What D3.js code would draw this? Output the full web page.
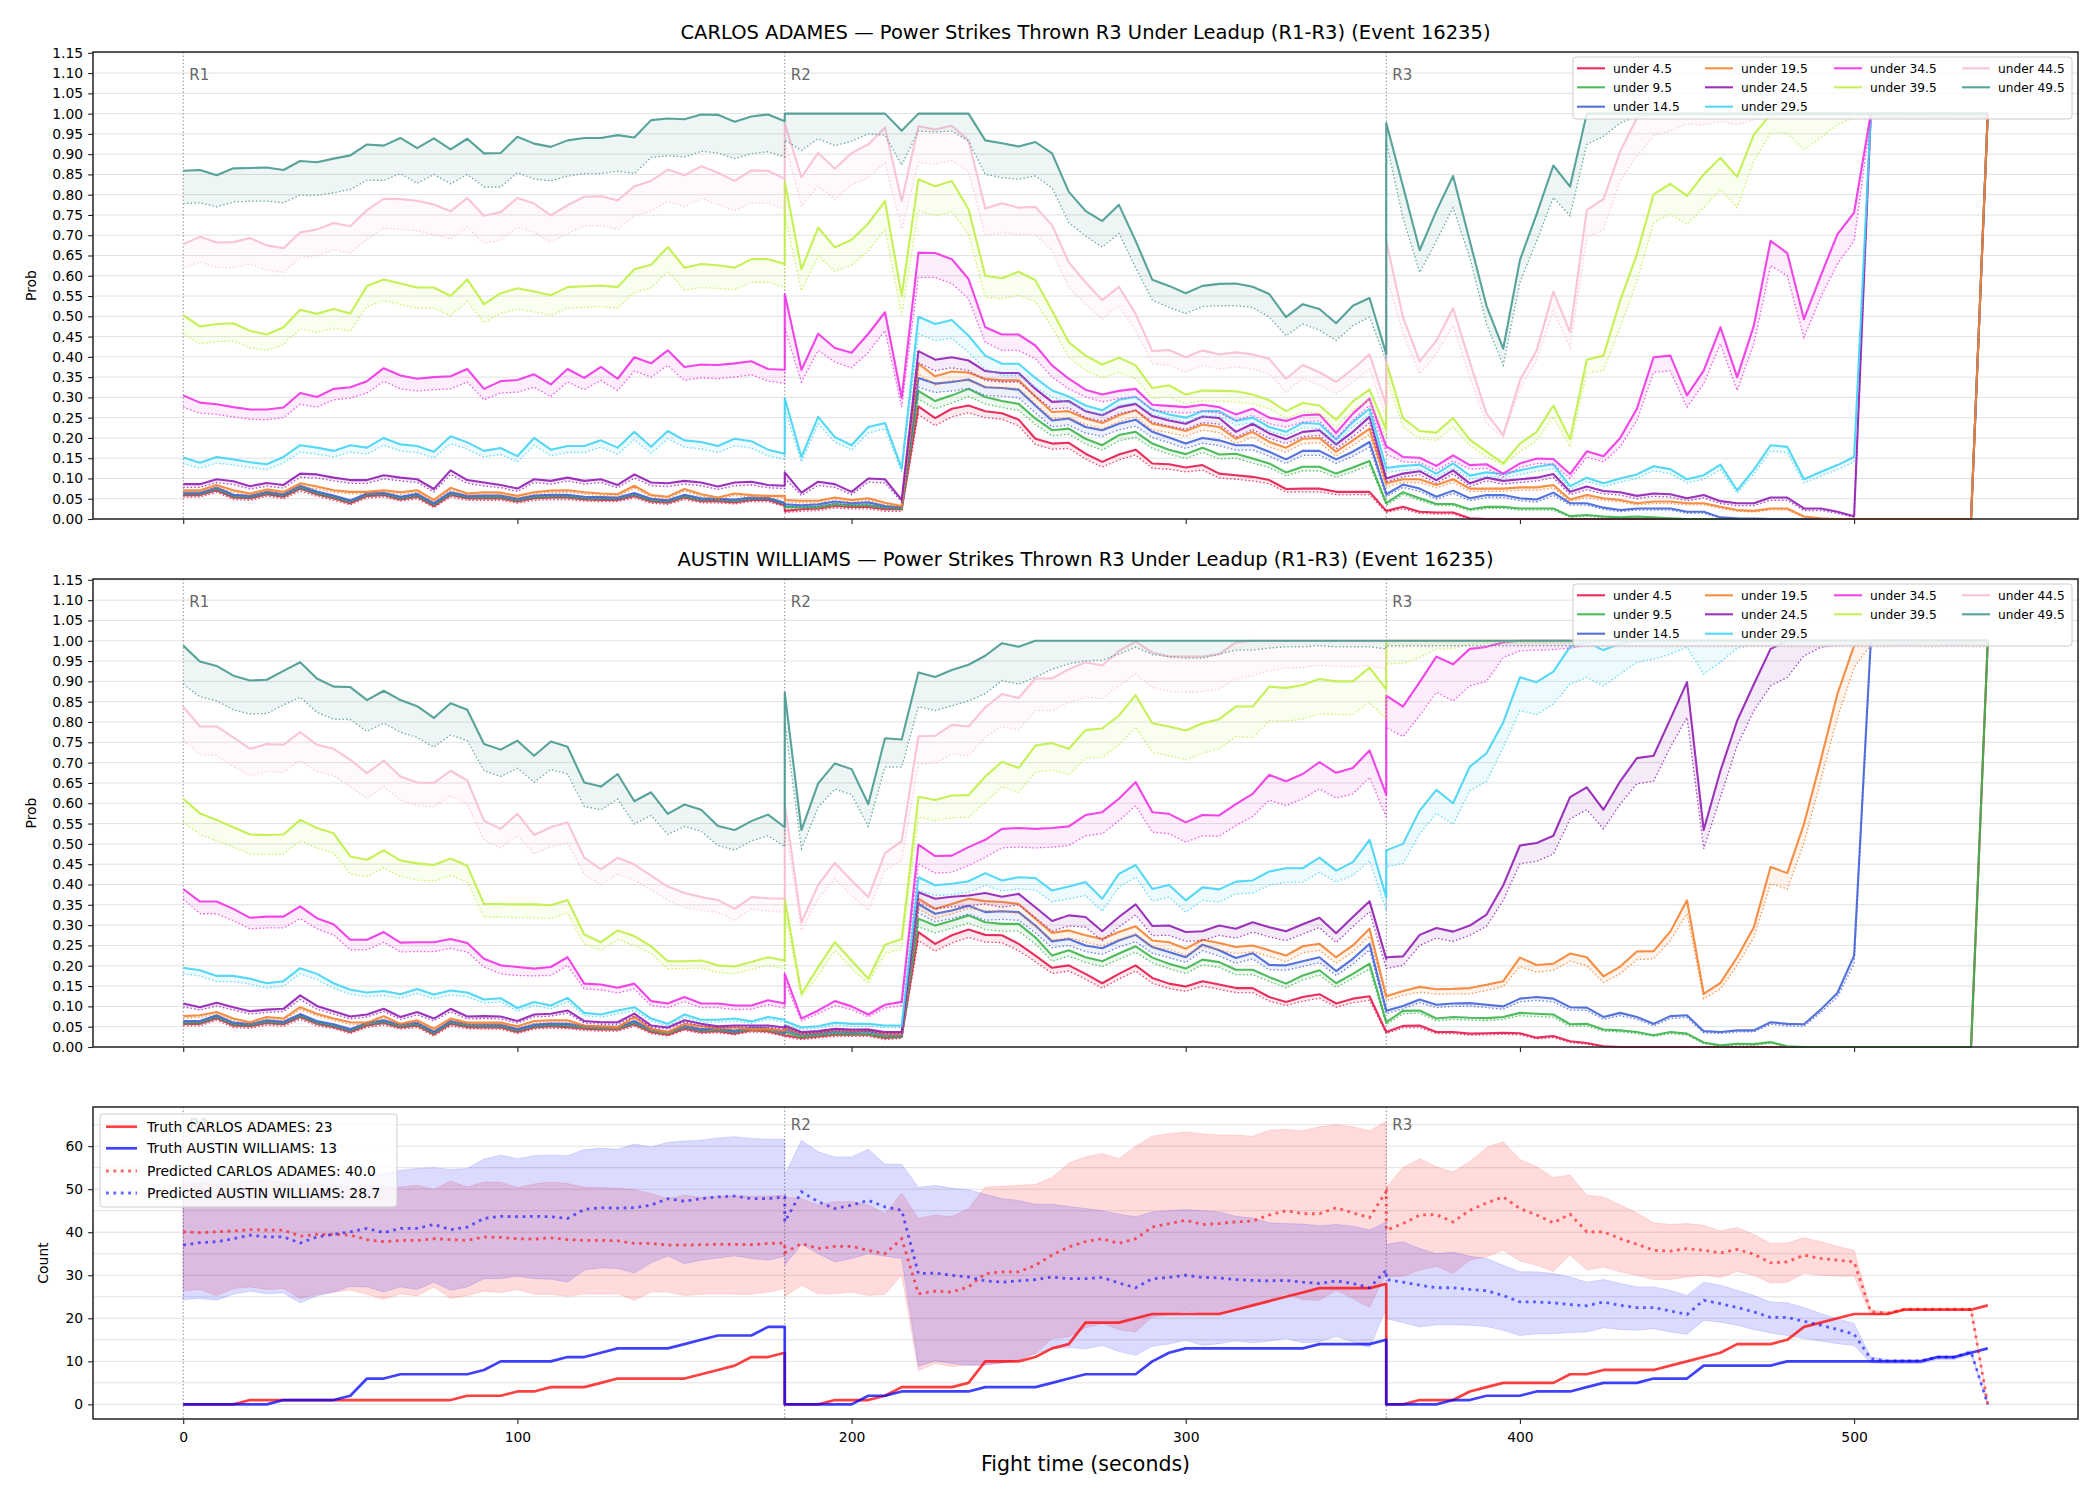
<!DOCTYPE html>
<html><head><meta charset="utf-8">
<script src="https://cdn.jsdelivr.net/npm/d3@7"></script>
<style>body{margin:0;background:#fff}svg{display:block}</style>
</head><body>
<svg width="2100" height="1500"></svg>
<script>
// ---------- categories / labels ----------
const seriesLabels = ["under 4.5","under 9.5","under 14.5","under 19.5","under 24.5","under 29.5","under 34.5","under 39.5","under 44.5","under 49.5"];
const colors = ["#e6194b","#3cb44b","#4363d8","#f58231","#911eb4","#42d4f4","#f032e6","#bfef45","#fabed4","#469990"];
const roundStarts = [0,180,360];
const roundLabels = ["R1","R2","R3"];
const xTicks = [0,100,200,300,400,500];
const titleA = "CARLOS ADAMES \u2014 Power Strikes Thrown R3 Under Leadup (R1-R3) (Event 16235)";
const titleB = "AUSTIN WILLIAMS \u2014 Power Strikes Thrown R3 Under Leadup (R1-R3) (Event 16235)";
const countLegend = ["Truth CARLOS ADAMES: 23","Truth AUSTIN WILLIAMS: 13","Predicted CARLOS ADAMES: 40.0","Predicted AUSTIN WILLIAMS: 28.7"];

// ---------- CARLOS ADAMES panel (solid = line, lo = dotted) ----------
const ca_u4 = [
.059,.059,.071,.053,.051,.061,.055,.075,.061,.051,.039,.057,.059,.048,.055,.032,.059,.051,.051,.051,.043,.051,.053,.053,.048,.047,.047,.057,.043,.040,.053,.044,.044,.041,.047,.047,.034,
.020,.024,.026,.032,.030,.030,.024,.024,.278,.249,.272,.280,.266,.261,.245,.198,.186,.188,.161,.141,.159,.171,.137,.135,.127,.133,.112,.108,.104,.096,.074,.075,.075,.067,.067,.067,.020,
.020,.030,.018,.016,.016,.002,0,0,0,0,0,0,0,0,0,0,0,0,0,0,0,0,0,0,0,0,0,0,0,0,0,0,0,0,0,0,1];
const ca_u4_lo = [
.054,.054,.066,.048,.046,.056,.050,.069,.056,.046,.035,.052,.054,.044,.050,.028,.054,.046,.046,.046,.039,.046,.048,.048,.044,.043,.043,.052,.039,.036,.048,.040,.040,.037,.043,.043,.030,
.016,.019,.021,.027,.025,.025,.019,.019,.258,.230,.252,.262,.250,.246,.230,.184,.172,.174,.148,.128,.146,.158,.125,.123,.116,.121,.101,.098,.094,.087,.066,.067,.067,.060,.060,.060,.016,
.016,.025,.014,.012,.012,0,0,0,0,0,0,0,0,0,0,0,0,0,0,0,0,0,0,0,0,0,0,0,0,0,0,0,0,0,0,0,.99];
const ca_u9 = [
.063,.063,.075,.057,.055,.065,.059,.079,.065,.055,.043,.061,.063,.052,.059,.036,.063,.055,.055,.055,.047,.055,.057,.057,.052,.051,.051,.061,.047,.044,.057,.048,.048,.045,.051,.051,.038,
.030,.029,.030,.037,.034,.034,.029,.026,.316,.291,.305,.321,.301,.291,.284,.248,.219,.223,.198,.182,.207,.215,.186,.171,.160,.176,.159,.161,.149,.137,.115,.129,.129,.112,.127,.143,.039,
.039,.066,.051,.037,.037,.024,.030,.030,.026,.026,.026,.007,.010,.006,.004,.006,.004,.002,0,0,0,0,0,0,0,0,0,0,0,0,0,0,0,0,0,0,1];
const ca_u9_lo = [
.058,.058,.070,.052,.050,.060,.054,.073,.060,.050,.039,.056,.058,.048,.054,.032,.058,.050,.050,.050,.043,.050,.052,.052,.048,.047,.047,.056,.043,.040,.052,.044,.044,.041,.047,.047,.034,
.026,.025,.026,.032,.030,.030,.025,.022,.296,.272,.286,.302,.284,.275,.268,.233,.205,.209,.185,.170,.193,.201,.174,.160,.149,.164,.148,.150,.138,.127,.106,.119,.119,.103,.117,.132,.034,
.034,.060,.046,.033,.033,.020,.026,.026,.022,.022,.022,.004,.007,.003,.002,.003,.002,0,0,0,0,0,0,0,0,0,0,0,0,0,0,0,0,0,0,0,.99];
const ca_u14 = [
.065,.065,.078,.060,.057,.067,.061,.082,.068,.058,.046,.063,.065,.055,.062,.039,.066,.057,.058,.058,.050,.058,.060,.060,.055,.054,.053,.064,.050,.046,.060,.051,.050,.048,.053,.052,.040,
.036,.034,.036,.043,.039,.041,.032,.029,.348,.334,.338,.344,.325,.323,.319,.280,.243,.248,.227,.219,.235,.245,.215,.201,.186,.200,.194,.182,.182,.166,.147,.168,.168,.147,.166,.190,.063,
.061,.085,.075,.055,.070,.051,.059,.059,.051,.048,.065,.039,.039,.028,.022,.026,.026,.026,.018,.018,.004,.002,.001,0,0,0,0,0,0,0,0,0,0,0,0,0,1];
const ca_u14_lo = [
.060,.060,.072,.055,.052,.062,.056,.076,.063,.053,.042,.058,.060,.050,.057,.035,.061,.052,.053,.053,.045,.053,.055,.055,.050,.049,.048,.059,.046,.042,.055,.047,.046,.044,.048,.047,.036,
.031,.029,.031,.038,.034,.036,.027,.025,.325,.312,.316,.322,.305,.303,.299,.262,.227,.232,.212,.204,.220,.229,.201,.188,.174,.187,.181,.170,.170,.155,.137,.157,.157,.137,.155,.177,.056,
.055,.078,.068,.049,.063,.045,.053,.053,.045,.042,.058,.034,.034,.024,.018,.022,.022,.022,.014,.014,.002,0,0,0,0,0,0,0,0,0,0,0,0,0,0,0,.99];
const ca_u19 = [
.071,.071,.084,.071,.063,.073,.067,.088,.080,.071,.067,.067,.071,.066,.071,.047,.077,.063,.066,.065,.057,.066,.070,.071,.066,.063,.061,.082,.059,.055,.074,.061,.053,.063,.059,.057,.057,
.047,.045,.045,.053,.047,.051,.040,.032,.383,.352,.364,.361,.346,.342,.342,.302,.264,.266,.248,.237,.256,.268,.235,.227,.217,.233,.227,.198,.215,.190,.176,.198,.200,.166,.194,.223,.088,
.088,.098,.098,.084,.098,.075,.075,.075,.078,.078,.084,.048,.059,.051,.047,.039,.043,.043,.039,.039,.030,.022,.020,.026,.026,.006,.002,0,0,0,0,0,0,0,0,0,1];
const ca_u19_lo = [
.066,.066,.078,.066,.058,.068,.062,.082,.074,.066,.062,.062,.066,.061,.066,.043,.071,.058,.061,.060,.052,.061,.065,.066,.061,.058,.056,.076,.054,.050,.069,.056,.049,.058,.054,.052,.052,
.042,.040,.040,.048,.042,.046,.035,.028,.358,.330,.342,.340,.326,.322,.322,.284,.248,.250,.233,.222,.240,.252,.220,.213,.204,.219,.213,.186,.202,.178,.165,.186,.188,.155,.182,.208,.080,
.080,.090,.090,.077,.090,.068,.068,.068,.071,.071,.077,.043,.053,.046,.042,.035,.038,.038,.035,.035,.026,.019,.017,.022,.022,.004,0,0,0,0,0,0,0,0,0,0,.99];
const ca_u24 = [
.086,.086,.098,.093,.081,.089,.084,.112,.110,.102,.096,.096,.108,.102,.098,.074,.120,.096,.090,.084,.075,.098,.094,.102,.094,.098,.084,.110,.090,.088,.094,.090,.080,.090,.092,.084,.082,
.115,.065,.092,.086,.067,.100,.098,.047,.414,.393,.399,.391,.365,.360,.360,.321,.289,.291,.266,.256,.276,.284,.254,.243,.235,.253,.249,.215,.235,.211,.197,.215,.219,.184,.215,.252,.100,
.100,.112,.118,.096,.120,.088,.102,.094,.098,.102,.111,.067,.080,.069,.066,.057,.063,.061,.051,.059,.044,.039,.039,.053,.053,.026,.026,.018,.007,1,1,1,1,1,1,1,1];
const ca_u24_lo = [
.078,.078,.090,.085,.074,.081,.076,.103,.101,.094,.088,.088,.099,.094,.090,.067,.110,.088,.082,.077,.068,.090,.086,.094,.086,.090,.077,.101,.082,.080,.086,.082,.073,.082,.084,.077,.075,
.100,.058,.083,.078,.060,.091,.089,.042,.385,.366,.373,.366,.342,.338,.338,.302,.272,.274,.250,.241,.260,.268,.239,.229,.221,.238,.234,.202,.221,.199,.186,.203,.206,.173,.203,.237,.092,
.092,.104,.109,.088,.111,.080,.094,.086,.090,.094,.102,.060,.072,.062,.059,.050,.056,.054,.045,.052,.038,.033,.033,.046,.046,.021,.021,.014,.004,.99,.99,.99,.99,.99,.99,.99,.99];
const ca_u29 = [
.152,.139,.153,.147,.140,.135,.153,.182,.176,.168,.182,.176,.200,.184,.180,.166,.204,.189,.168,.175,.155,.200,.171,.180,.180,.194,.176,.215,.178,.217,.194,.190,.180,.198,.192,.171,.161,
.298,.153,.252,.202,.182,.227,.237,.125,.499,.481,.491,.452,.403,.383,.383,.348,.317,.302,.280,.268,.294,.301,.270,.258,.250,.266,.266,.242,.250,.227,.215,.237,.235,.196,.239,.272,.126,
.126,.131,.134,.112,.137,.107,.115,.111,.120,.129,.135,.081,.102,.088,.100,.110,.130,.123,.098,.108,.134,.071,.122,.182,.178,.098,.116,.133,.153,1,1,1,1,1,1,1,1];
const ca_u29_lo = [
.136,.126,.138,.133,.127,.122,.138,.165,.160,.153,.165,.160,.182,.168,.164,.151,.186,.172,.153,.159,.141,.182,.156,.164,.164,.177,.160,.196,.162,.198,.177,.173,.164,.180,.175,.156,.147,
.270,.141,.235,.190,.170,.212,.223,.116,.457,.440,.446,.411,.370,.354,.354,.325,.301,.286,.268,.256,.280,.286,.258,.248,.239,.253,.254,.231,.238,.217,.205,.225,.223,.186,.227,.258,.115,
.115,.120,.123,.103,.126,.098,.106,.102,.110,.118,.124,.073,.093,.080,.091,.100,.119,.112,.089,.098,.122,.064,.111,.168,.164,.089,.106,.122,.141,.99,.99,.99,.99,.99,.99,.99,.99];
const ca_u34 = [
.305,.287,.283,.276,.270,.270,.275,.311,.301,.321,.325,.340,.372,.354,.346,.350,.352,.370,.321,.340,.343,.357,.332,.370,.348,.375,.346,.399,.384,.416,.375,.381,.380,.384,.389,.370,.368,
.555,.368,.457,.422,.410,.457,.510,.299,.657,.656,.641,.592,.473,.455,.455,.428,.379,.346,.319,.307,.316,.321,.282,.279,.276,.282,.276,.258,.272,.250,.242,.256,.258,.212,.260,.297,.178,
.180,.153,.151,.131,.157,.133,.135,.112,.137,.149,.148,.111,.167,.155,.200,.272,.399,.403,.305,.366,.473,.350,.477,.686,.656,.493,.600,.702,.756,1,1,1,1,1,1,1,1];
const ca_u34_lo = [
.276,.261,.258,.252,.246,.245,.250,.283,.276,.294,.298,.311,.340,.321,.316,.319,.321,.338,.294,.311,.313,.325,.302,.338,.319,.342,.317,.365,.350,.379,.342,.348,.346,.350,.356,.340,.335,
.470,.338,.416,.387,.373,.411,.465,.276,.596,.596,.581,.543,.436,.416,.416,.395,.350,.321,.301,.289,.297,.302,.268,.264,.261,.266,.261,.243,.256,.235,.227,.239,.242,.198,.243,.280,.160,
.160,.141,.139,.120,.143,.123,.125,.104,.127,.137,.135,.100,.153,.141,.178,.243,.362,.365,.276,.334,.432,.317,.432,.625,.600,.448,.547,.629,.686,.99,.99,.99,.99,.99,.99,.99,.99];
const ca_u39 = [
.503,.475,.481,.483,.464,.455,.473,.516,.506,.518,.507,.575,.591,.581,.571,.571,.550,.591,.530,.557,.569,.561,.552,.572,.574,.576,.572,.616,.627,.671,.620,.629,.626,.620,.641,.641,.629,
.834,.616,.719,.670,.689,.729,.784,.551,.838,.821,.834,.764,.600,.594,.610,.589,.514,.436,.403,.381,.398,.379,.323,.330,.307,.317,.316,.315,.307,.293,.266,.286,.280,.245,.290,.320,.220,
.387,.249,.217,.213,.249,.196,.166,.137,.186,.215,.280,.197,.393,.403,.539,.653,.801,.827,.797,.850,.891,.844,.948,.998,1,1,1,1,1,1,1,1,1,1,1,1,1];
const ca_u39_lo = [
.457,.432,.438,.439,.422,.416,.430,.469,.460,.471,.463,.524,.539,.529,.520,.520,.501,.537,.484,.507,.518,.511,.502,.520,.522,.524,.520,.559,.570,.611,.565,.571,.569,.565,.584,.584,.571,
.750,.563,.649,.611,.626,.661,.715,.502,.761,.748,.758,.702,.547,.543,.552,.536,.473,.399,.366,.348,.362,.346,.297,.301,.284,.291,.291,.289,.284,.272,.248,.264,.260,.227,.268,.293,.200,
.350,.227,.198,.194,.227,.182,.153,.133,.166,.194,.252,.178,.360,.366,.473,.586,.731,.752,.727,.768,.813,.768,.883,.952,.952,.911,.940,.973,.989,.99,.99,.99,.99,.99,.99,.99,.99];
const ca_u44 = [
.678,.696,.682,.683,.693,.675,.668,.707,.714,.730,.722,.762,.790,.789,.785,.776,.759,.792,.748,.757,.792,.778,.749,.774,.795,.796,.786,.821,.834,.862,.848,.870,.854,.834,.860,.859,.839,
.977,.843,.903,.864,.903,.924,.966,.784,.969,.961,.970,.934,.766,.779,.768,.770,.725,.633,.584,.540,.573,.506,.414,.417,.399,.416,.406,.411,.406,.395,.346,.380,.362,.338,.370,.406,.280,
.686,.498,.389,.440,.520,.387,.260,.207,.342,.416,.561,.461,.762,.789,.907,.989,1,1,1,1,1,1,1,1,1,1,1,1,1,1,1,1,1,1,1,1,1];
const ca_u44_lo = [
.619,.634,.620,.620,.629,.614,.608,.645,.649,.664,.656,.690,.717,.715,.711,.702,.690,.719,.680,.688,.719,.707,.682,.704,.723,.723,.715,.748,.760,.783,.771,.791,.776,.760,.780,.779,.764,
.930,.772,.821,.789,.825,.842,.879,.715,.879,.875,.884,.858,.698,.707,.702,.702,.661,.571,.530,.493,.526,.465,.383,.379,.362,.379,.370,.375,.370,.358,.313,.346,.330,.309,.338,.370,.250,
.600,.457,.358,.407,.477,.350,.235,.202,.321,.391,.514,.424,.694,.715,.834,.895,.946,.957,.975,.971,.981,.973,.985,.989,.991,.99,.99,.99,.99,.99,.99,.99,.99,.99,.99,.99,.99];
const ca_u49 = [
.859,.861,.848,.865,.866,.867,.861,.883,.880,.889,.897,.924,.921,.940,.915,.939,.912,.938,.902,.903,.943,.926,.918,.934,.940,.940,.947,.941,.984,.988,.986,.998,.997,.980,.993,.998,.981,
1,1,1,1,1,1,1,.958,1,1,1,1,.934,.927,.919,.930,.902,.807,.760,.735,.775,.686,.590,.575,.557,.575,.580,.581,.573,.555,.498,.530,.518,.483,.526,.545,.407,
.977,.821,.663,.760,.846,.686,.526,.420,.639,.752,.872,.820,1,1,1,1,1,1,1,1,1,1,1,1,1,1,1,1,1,1,1,1,1,1,1,1,1];
const ca_u49_lo = [
.778,.780,.770,.782,.784,.784,.780,.799,.798,.805,.813,.836,.835,.852,.828,.850,.827,.850,.819,.819,.854,.839,.834,.846,.852,.852,.858,.852,.892,.896,.893,.907,.903,.889,.901,.906,.893,
.935,.909,.938,.921,.932,.950,.947,.873,.957,.955,.957,.932,.850,.842,.838,.846,.817,.731,.698,.671,.704,.620,.540,.522,.507,.524,.526,.526,.522,.498,.452,.481,.466,.440,.477,.498,.390,
.930,.743,.608,.686,.768,.645,.481,.379,.584,.686,.793,.748,.924,.944,.977,.993,.995,.995,.995,.995,.995,.995,.995,.995,.995,.995,.995,.995,.995,.995,.995,.995,.995,.995,.995,.995,.995];

// ---------- AUSTIN WILLIAMS panel ----------
const aw_u4 = [
.057,.057,.071,.053,.051,.059,.056,.074,.057,.049,.037,.053,.059,.048,.053,.031,.057,.049,.048,.048,.037,.048,.051,.049,.045,.043,.043,.056,.037,.030,.045,.037,.039,.033,.041,.039,.029,
.029,.022,.026,.030,.030,.030,.022,.025,.283,.254,.275,.289,.276,.275,.254,.225,.195,.201,.180,.157,.180,.201,.170,.156,.149,.162,.154,.145,.145,.123,.111,.123,.130,.107,.119,.125,.037,
.037,.052,.053,.037,.037,.033,.034,.035,.034,.023,.027,.014,.010,.002,0,0,0,0,0,0,0,0,0,0,0,0,0,0,0,0,0,0,0,0,0,0,1];
const aw_u4_lo = [
.052,.052,.066,.048,.046,.054,.051,.068,.052,.045,.033,.048,.054,.044,.048,.027,.052,.045,.044,.044,.033,.044,.046,.045,.041,.039,.039,.051,.033,.027,.041,.033,.035,.030,.037,.035,.026,
.025,.018,.022,.026,.026,.026,.018,.021,.262,.236,.256,.270,.258,.257,.237,.210,.181,.187,.167,.145,.167,.187,.157,.144,.137,.150,.142,.134,.134,.113,.102,.113,.120,.098,.109,.115,.033,
.033,.047,.048,.033,.033,.029,.030,.031,.030,.020,.023,.011,.007,0,0,0,0,0,0,0,0,0,0,0,0,0,0,0,0,0,0,0,0,0,0,0,.99];
const aw_u9 = [
.061,.061,.075,.057,.055,.063,.060,.078,.061,.053,.041,.057,.063,.052,.057,.035,.061,.053,.052,.052,.041,.052,.055,.053,.049,.047,.047,.060,.041,.034,.049,.041,.043,.037,.045,.043,.033,
.037,.026,.030,.034,.033,.033,.026,.026,.316,.299,.311,.324,.307,.303,.303,.270,.225,.238,.221,.211,.230,.248,.220,.205,.193,.215,.209,.190,.190,.172,.156,.176,.189,.157,.180,.205,.061,
.061,.089,.090,.070,.074,.072,.071,.074,.084,.082,.080,.056,.057,.043,.041,.037,.029,.037,.033,.011,.004,.008,.007,.012,.002,0,0,0,0,0,0,0,0,0,0,0,1];
const aw_u9_lo = [
.056,.056,.070,.052,.050,.058,.055,.072,.056,.049,.037,.052,.058,.048,.052,.031,.056,.049,.048,.048,.037,.048,.050,.049,.045,.043,.043,.055,.037,.031,.045,.037,.039,.034,.041,.039,.030,
.033,.022,.026,.030,.029,.029,.022,.022,.296,.281,.292,.305,.289,.285,.285,.254,.211,.224,.208,.198,.216,.233,.207,.193,.181,.202,.196,.178,.178,.161,.146,.165,.177,.147,.169,.192,.055,
.055,.082,.083,.064,.068,.066,.065,.068,.077,.075,.073,.051,.052,.039,.037,.033,.026,.033,.029,.008,.002,.005,.004,.009,0,0,0,0,0,0,0,0,0,0,0,0,.99];
const aw_u14 = [
.064,.064,.078,.060,.057,.066,.062,.081,.064,.056,.044,.060,.066,.055,.060,.038,.064,.056,.055,.055,.044,.055,.058,.057,.052,.050,.050,.064,.044,.037,.052,.044,.046,.040,.048,.046,.036,
.043,.031,.034,.039,.037,.039,.030,.030,.352,.328,.336,.348,.332,.334,.332,.299,.260,.266,.250,.243,.262,.276,.246,.234,.221,.252,.238,.219,.231,.202,.201,.211,.221,.187,.217,.254,.090,
.089,.101,.117,.104,.107,.108,.104,.100,.119,.123,.119,.098,.097,.074,.084,.074,.057,.076,.078,.039,.037,.041,.041,.061,.057,.056,.092,.133,.225,1,1,1,1,1,1,1,1];
const aw_u14_lo = [
.059,.059,.072,.055,.052,.061,.057,.075,.059,.051,.040,.055,.061,.050,.055,.034,.059,.051,.050,.050,.040,.050,.053,.052,.047,.045,.045,.059,.040,.033,.047,.040,.042,.036,.044,.042,.032,
.038,.027,.030,.035,.033,.035,.026,.026,.330,.308,.316,.327,.312,.314,.312,.281,.244,.250,.235,.228,.246,.259,.231,.220,.208,.237,.224,.206,.217,.190,.189,.198,.208,.176,.204,.239,.082,
.082,.094,.109,.097,.100,.101,.097,.093,.111,.115,.111,.091,.090,.068,.077,.068,.052,.070,.072,.035,.033,.037,.037,.056,.052,.051,.085,.123,.205,.99,.99,.99,.99,.99,.99,.99,.99];
const aw_u19 = [
.076,.078,.086,.070,.061,.074,.070,.098,.082,.070,.061,.060,.076,.057,.066,.045,.070,.060,.060,.060,.051,.064,.066,.066,.053,.051,.049,.074,.045,.037,.057,.051,.047,.048,.045,.045,.041,
.048,.034,.037,.043,.041,.043,.033,.033,.365,.340,.352,.365,.359,.357,.352,.316,.281,.287,.275,.266,.283,.297,.262,.258,.242,.264,.256,.246,.250,.238,.225,.248,.254,.221,.250,.291,.125,
.125,.138,.148,.142,.143,.145,.153,.162,.220,.202,.205,.230,.221,.174,.198,.235,.236,.284,.361,.131,.158,.221,.295,.443,.428,.549,.705,.869,.988,1,1,1,1,1,1,1,1];
const aw_u19_lo = [
.071,.073,.080,.065,.056,.069,.065,.092,.077,.065,.056,.055,.071,.052,.061,.041,.065,.055,.055,.055,.047,.059,.061,.061,.048,.047,.045,.069,.041,.033,.052,.047,.043,.044,.041,.041,.037,
.043,.030,.033,.039,.037,.039,.029,.029,.340,.317,.328,.341,.336,.334,.329,.296,.263,.269,.258,.249,.265,.278,.245,.241,.226,.247,.239,.230,.234,.223,.210,.232,.238,.206,.234,.273,.115,
.115,.127,.135,.130,.131,.131,.139,.149,.198,.184,.189,.211,.200,.159,.180,.215,.217,.262,.328,.119,.143,.201,.270,.402,.389,.502,.656,.811,.934,.99,.99,.99,.99,.99,.99,.99,.99];
const aw_u24 = [
.107,.098,.109,.098,.088,.092,.094,.127,.101,.088,.075,.080,.094,.074,.086,.070,.094,.075,.076,.075,.064,.080,.082,.090,.064,.061,.061,.082,.053,.048,.066,.057,.051,.053,.053,.053,.048,
.053,.037,.039,.045,.043,.043,.037,.037,.381,.365,.370,.373,.379,.370,.377,.344,.310,.324,.320,.285,.320,.351,.298,.299,.283,.285,.299,.291,.307,.295,.285,.302,.318,.280,.320,.359,.217,
.221,.223,.276,.293,.284,.299,.326,.398,.496,.502,.520,.615,.639,.584,.654,.711,.717,.807,.898,.534,.680,.803,.893,.980,1,1,1,1,1,1,1,1,1,1,1,1,1];
const aw_u24_lo = [
.099,.091,.101,.091,.081,.085,.087,.117,.093,.081,.069,.074,.087,.068,.079,.064,.087,.069,.070,.069,.059,.074,.076,.083,.059,.056,.056,.076,.049,.044,.061,.052,.047,.049,.049,.049,.044,
.048,.033,.035,.041,.039,.039,.033,.033,.356,.340,.345,.348,.352,.344,.350,.318,.285,.298,.295,.262,.295,.325,.274,.275,.260,.262,.275,.268,.283,.271,.262,.278,.294,.257,.296,.333,.193,
.193,.201,.250,.268,.260,.275,.297,.361,.451,.457,.475,.561,.584,.537,.598,.648,.654,.738,.811,.488,.615,.742,.828,.889,.910,.963,.984,.99,.99,.99,.99,.99,.99,.99,.99,.99,.99];
const aw_u29 = [
.195,.189,.175,.175,.168,.157,.162,.194,.180,.157,.141,.134,.138,.130,.143,.129,.139,.134,.117,.120,.096,.111,.102,.121,.084,.080,.090,.098,.070,.057,.080,.067,.067,.070,.063,.074,.067,
.064,.048,.051,.060,.057,.057,.053,.053,.418,.398,.402,.408,.428,.410,.418,.416,.385,.395,.406,.365,.426,.448,.389,.399,.361,.393,.388,.407,.410,.432,.440,.440,.466,.434,.455,.510,.369,
.484,.500,.582,.633,.600,.690,.723,.799,.910,.898,.924,.985,.996,.977,.993,1,1,1,1,1,1,1,1,1,1,1,1,1,1,1,1,1,1,1,1,1,1];
const aw_u29_lo = [
.180,.175,.161,.161,.155,.145,.150,.180,.166,.145,.130,.124,.127,.120,.132,.119,.128,.124,.108,.111,.088,.102,.094,.112,.077,.073,.082,.090,.064,.052,.073,.061,.061,.064,.058,.068,.061,
.055,.043,.046,.054,.051,.051,.048,.048,.385,.373,.375,.381,.398,.384,.389,.387,.357,.365,.373,.334,.393,.418,.359,.369,.332,.361,.357,.377,.379,.398,.406,.406,.430,.406,.422,.459,.336,
.443,.452,.525,.575,.548,.631,.654,.738,.828,.818,.844,.893,.910,.889,.918,.947,.955,.967,.984,.918,.947,.982,.99,.99,.99,.99,.99,.99,.99,.99,.99,.99,.99,.99,.99,.99,.99];
const aw_u34 = [
.389,.358,.358,.340,.318,.321,.321,.346,.317,.302,.264,.264,.283,.257,.258,.258,.266,.256,.217,.201,.197,.193,.197,.221,.156,.154,.146,.156,.113,.107,.123,.107,.107,.102,.102,.115,.107,
.180,.070,.090,.113,.100,.080,.104,.111,.498,.470,.471,.492,.510,.537,.539,.537,.539,.543,.571,.578,.611,.652,.578,.574,.553,.571,.570,.598,.623,.670,.654,.672,.701,.675,.687,.730,.621,
.865,.838,.898,.961,.942,.980,.985,.996,1,1,1,1,1,1,1,1,1,1,1,1,1,1,1,1,1,1,1,1,1,1,1,1,1,1,1,1,1];
const aw_u34_lo = [
.365,.328,.328,.311,.291,.293,.293,.316,.291,.276,.239,.239,.258,.234,.235,.235,.243,.234,.197,.180,.176,.175,.176,.201,.143,.141,.133,.143,.102,.097,.112,.097,.097,.092,.093,.104,.096,
.160,.064,.082,.102,.092,.074,.096,.102,.451,.428,.430,.447,.467,.490,.492,.490,.492,.496,.520,.525,.557,.594,.529,.525,.504,.520,.519,.545,.567,.608,.594,.611,.635,.613,.623,.664,.566,
.787,.764,.816,.873,.852,.889,.900,.959,.975,.977,.978,.982,.988,.99,.99,.99,.99,.99,.99,.99,.99,.99,.99,.99,.99,.99,.99,.99,.99,.99,.99,.99,.99,.99,.99,.99,.99];
const aw_u39 = [
.611,.575,.559,.541,.523,.522,.523,.559,.539,.526,.469,.461,.484,.459,.452,.448,.464,.446,.352,.352,.351,.351,.349,.362,.277,.258,.287,.273,.248,.211,.211,.213,.201,.198,.209,.221,.213,
.365,.131,.197,.258,.213,.168,.252,.266,.616,.608,.619,.620,.666,.702,.687,.742,.748,.734,.780,.784,.816,.866,.797,.789,.779,.797,.807,.838,.838,.887,.884,.891,.906,.900,.900,.934,.881,
1,1,1,1,1,1,1,1,1,1,1,1,1,1,1,1,1,1,1,1,1,1,1,1,1,1,1,1,1,1,1,1,1,1,1,1,1];
const aw_u39_lo = [
.553,.523,.508,.492,.475,.474,.475,.507,.490,.477,.426,.420,.441,.420,.411,.408,.422,.406,.320,.320,.318,.318,.316,.330,.254,.238,.264,.250,.230,.193,.193,.194,.184,.180,.191,.201,.193,
.330,.123,.176,.238,.193,.156,.230,.242,.566,.557,.564,.566,.602,.641,.627,.676,.682,.670,.711,.713,.744,.787,.725,.717,.707,.723,.734,.764,.762,.803,.802,.807,.820,.818,.818,.848,.807,
.943,.944,.959,.980,.980,.992,.995,.995,.995,.995,.995,.995,.995,.995,.995,.995,.995,.995,.995,.995,.995,.995,.995,.995,.995,.995,.995,.995,.995,.995,.995,.995,.995,.995,.995,.995,.995];
const aw_u44 = [
.838,.789,.789,.762,.734,.746,.744,.775,.744,.734,.707,.674,.705,.666,.651,.650,.680,.656,.557,.537,.574,.522,.541,.553,.466,.437,.466,.449,.422,.395,.379,.369,.362,.340,.369,.366,.365,
.598,.307,.399,.453,.410,.369,.477,.507,.765,.766,.793,.789,.836,.869,.859,.907,.907,.930,.947,.939,.975,.998,.971,.961,.961,.961,.967,.996,1,1,1,1,1,1,1,1,1,
1,1,1,1,1,1,1,1,1,1,1,1,1,1,1,1,1,1,1,1,1,1,1,1,1,1,1,1,1,1,1,1,1,1,1,1,1];
const aw_u44_lo = [
.754,.720,.717,.690,.668,.678,.676,.705,.678,.668,.641,.612,.641,.607,.594,.592,.619,.598,.510,.490,.520,.475,.493,.502,.425,.400,.425,.411,.387,.361,.344,.336,.332,.311,.340,.334,.332,
.550,.287,.365,.414,.373,.336,.434,.459,.697,.698,.721,.717,.762,.789,.780,.828,.828,.848,.861,.857,.889,.918,.885,.875,.873,.875,.881,.906,.914,.926,.933,.934,.940,.937,.936,.939,.930,
.985,.985,.985,.985,.985,.985,.985,.985,.985,.985,.985,.985,.985,.985,.985,.985,.985,.985,.985,.985,.985,.985,.985,.985,.985,.985,.985,.985,.985,.985,.985,.985,.985,.985,.985,.985,.985];
const aw_u49 = [
.988,.949,.938,.914,.902,.904,.926,.947,.907,.887,.886,.854,.877,.854,.839,.810,.846,.830,.746,.732,.754,.717,.752,.739,.651,.641,.672,.605,.627,.574,.597,.584,.544,.534,.556,.572,.541,
.873,.534,.649,.698,.684,.598,.760,.757,.922,.911,.928,.941,.963,.994,.985,1,1,1,1,1,1,1,1,1,1,1,1,1,1,1,1,1,1,1,1,1,1,
1,1,1,1,1,1,1,1,1,1,1,1,1,1,1,1,1,1,1,1,1,1,1,1,1,1,1,1,1,1,1,1,1,1,1,1,1];
const aw_u49_lo = [
.893,.862,.852,.830,.820,.821,.842,.861,.824,.807,.806,.777,.797,.775,.762,.738,.768,.754,.680,.666,.686,.652,.683,.672,.592,.584,.610,.549,.570,.523,.543,.531,.496,.485,.507,.520,.493,
.800,.488,.590,.635,.621,.543,.689,.689,.838,.828,.840,.852,.870,.902,.893,.910,.930,.943,.951,.952,.967,.984,.966,.961,.957,.957,.967,.977,.977,.982,.985,.985,.988,.985,.985,.985,.980,
.988,.988,.988,.988,.988,.988,.988,.988,.988,.988,.988,.988,.988,.988,.988,.988,.988,.988,.988,.988,.988,.988,.988,.988,.988,.988,.988,.988,.988,.988,.988,.988,.988,.988,.988,.988,.988];

// ---------- count panel ----------
const truthA = [
0,0,0,0,1,1,1,1,1,1,1,1,1,1,1,1,1,2,2,2,3,3,4,4,4,5,6,6,6,6,6,7,8,9,11,11,12,
0,0,0,1,1,1,2,4,4,4,4,5,10,10,10,11,13,14,19,19,19,20,21,21,21,21,21,22,23,24,25,26,27,27,27,27,28,
0,0,1,1,1,3,4,5,5,5,5,7,7,8,8,8,8,9,10,11,12,14,14,14,15,18,19,20,21,21,21,22,22,22,22,22,23];
const truthB = [
0,0,0,0,0,0,1,1,1,1,2,6,6,7,7,7,7,7,8,10,10,10,10,11,11,12,13,13,13,13,14,15,16,16,16,18,18,
0,0,0,0,0,2,2,3,3,3,3,3,4,4,4,4,5,6,7,7,7,7,10,12,13,13,13,13,13,13,13,13,14,14,14,14,15,
0,0,0,0,1,1,2,2,2,3,3,3,4,5,5,5,6,6,6,9,9,9,9,9,10,10,10,10,10,10,10,10,10,11,11,12,13];
const predA = [
40.1,39.9,40.1,40.3,40.6,40.5,40.5,39.1,39.5,39.5,39.3,38.3,37.8,38.1,38.1,38.5,38.3,38.1,38.9,38.8,38.5,38.4,38.7,38.3,38.1,38.1,38.0,37.4,37.4,37.0,37.0,37.1,37.2,37.2,37.1,37.4,37.5,
35.2,37.4,36.2,36.7,36.7,35.8,35.0,38.5,25.7,26.3,26.1,27.3,30.4,30.8,30.8,32.3,34.7,36.6,37.8,38.5,37.4,38.5,41.2,42.0,42.8,41.8,42.0,42.4,42.6,44.0,45.0,44.3,44.3,45.7,44.5,43.4,49.5,
40.5,42.0,44.0,44.1,42.4,45.1,46.8,48.2,45.5,44.0,42.2,44.2,40.1,40.1,38.5,37.2,35.8,35.6,36.2,35.8,35.2,36.0,34.9,32.9,33.1,34.7,33.9,33.5,33.1,21.5,21.2,22.1,22.1,22.1,22.1,22.1,0];
const predB = [
37.0,37.6,37.8,38.5,39.3,38.9,38.9,37.5,38.9,39.5,40.1,40.9,39.9,40.9,40.9,41.8,40.6,41.2,43.2,43.7,43.6,43.7,43.6,43.2,45.3,45.7,45.6,45.7,46.3,47.8,47.2,47.8,48.2,48.4,47.8,47.8,48.2,
42.4,49.4,47.1,45.5,46.3,47.4,45.9,45.1,30.4,30.5,30.0,29.6,28.7,28.4,28.7,29.0,29.6,29.2,29.2,29.5,28.2,27.1,29.2,29.5,30.0,29.5,29.4,29.0,28.8,28.7,28.8,28.4,28.1,28.7,28.1,27.1,31.2,
29.0,28.4,27.7,27.1,27.1,26.7,26.4,25.3,23.8,23.8,23.6,23.2,22.9,23.8,23.0,22.5,22.5,21.7,20.9,24.2,23.4,22.5,21.5,20.2,20.2,19.3,18.4,17.4,16.3,10.6,10.1,10.1,10.1,11.0,11.0,12.2,0];
const bandA_hi = [
51.0,51.5,51.0,51.5,52.0,52.0,51.5,51.0,51.5,51.0,50.5,51.0,50.5,50.5,50.9,50.0,51.9,50.5,51.7,51.6,50.4,51.2,51.7,51.3,50.5,50.4,50.2,49.9,49.0,47.8,48.6,48.1,48.4,48.4,48.4,48.4,48.6,
48.2,47.8,46.3,47.1,47.1,46.3,44.3,49.1,43.2,44.0,43.6,45.5,50.5,50.7,50.9,51.1,52.7,56.1,57.5,58.3,57.1,60.0,62.3,62.9,63.3,62.9,62.6,62.6,62.3,63.7,63.9,63.6,64.5,65.0,64.5,63.6,65.7,
50.5,55.0,57.1,55.2,54.0,56.4,59.7,61.0,56.9,55.2,52.7,53.3,48.6,48.2,46.3,44.5,42.2,41.8,42.0,41.6,40.3,41.1,39.5,37.4,37.5,38.7,37.8,36.7,35.8,21.9,21.5,22.2,22.2,22.2,22.2,22.2,0];
const bandA_lo = [
26.4,26.7,25.3,26.9,27.3,26.7,26.9,24.6,25.6,26.1,26.5,25.6,24.4,25.7,25.2,27.3,24.6,25.3,26.3,26.0,26.7,25.6,25.6,25.1,25.7,25.6,25.7,24.2,26.1,26.1,25.3,25.6,25.7,25.6,25.6,26.1,26.9,
25.0,27.7,25.7,25.7,26.1,25.3,25.6,30.0,7.8,9.5,8.8,9.1,9.3,9.6,10.2,11.8,15.3,15.7,17.8,18.8,17.4,16.8,20.3,20.9,21.7,21.2,21.2,22.0,22.8,23.8,25.7,24.3,24.2,26.5,24.6,22.5,30.5,
29.6,29.8,31.2,32.1,30.4,33.5,34.3,35.8,33.3,32.3,30.9,34.7,31.2,31.9,30.8,30.0,29.0,29.0,29.6,30.0,29.5,30.9,30.0,28.2,28.4,30.5,30.0,29.8,29.8,20.9,20.9,21.9,21.9,21.9,21.9,21.9,0];
const bandB_hi = [
52.0,52.5,53.0,52.5,52.0,52.5,53.0,52.5,53.0,53.5,53.0,53.6,53.6,54.4,54.8,55.0,54.6,54.8,57.0,57.9,57.1,57.8,57.9,57.8,59.2,59.5,59.3,60.5,59.8,60.9,61.2,61.4,61.9,62.2,61.8,61.6,61.6,
53.3,61.4,58.7,57.5,57.5,59.3,55.8,55.8,50.4,50.9,50.2,49.9,48.8,47.8,47.4,46.5,46.5,46.0,45.5,45.0,44.2,43.6,44.7,45.0,45.3,45.0,44.7,43.7,43.3,42.2,42.0,41.9,41.5,41.8,41.4,40.5,42.4,
37.2,37.8,36.2,35.0,35.4,34.4,33.9,32.3,30.8,30.8,30.4,29.6,28.4,29.0,28.1,27.3,27.3,26.5,25.3,28.4,27.7,26.5,25.3,23.8,23.6,22.5,21.1,19.9,18.8,11.0,10.4,10.4,10.4,11.2,11.2,12.6,0];
const bandB_lo = [
24.3,24.6,24.2,25.6,26.3,25.7,25.9,23.6,25.2,26.1,27.4,27.3,26.1,27.3,26.7,28.4,26.5,27.3,29.2,29.2,29.8,29.2,29.1,28.4,31.2,31.7,31.6,30.5,32.9,34.5,32.7,33.5,34.0,34.5,33.9,33.5,34.4,
32.3,37.2,35.0,33.1,33.9,35.0,34.4,33.9,8.8,10.1,9.5,9.1,9.1,9.6,10.4,11.8,12.9,13.2,12.9,13.7,12.3,11.4,13.5,14.0,14.9,13.7,14.1,14.7,14.3,14.7,15.3,14.3,14.5,15.8,14.5,13.2,22.2,
19.9,19.0,18.0,18.5,18.5,18.4,18.1,17.2,16.0,16.4,16.4,16.7,16.8,17.8,17.4,17.2,17.6,16.8,16.3,19.5,19.1,18.4,17.4,16.6,16.0,15.3,14.7,14.1,13.7,9.6,9.5,9.5,9.5,10.4,10.4,11.6,0];

// ---------- drawing ----------
const FONT = "DejaVu Sans, Verdana, sans-serif";
const svg = d3.select("svg").attr("font-family", FONT);
const X0 = 93, X1 = 2078;
const x = d3.scaleLinear().domain([-27, 567]).range([X0, X1]);
const times = roundStarts.flatMap(s => d3.range(37).map(i => s + 5 * i));

function styleAxis(a) {
  a.select(".domain").remove();
  a.selectAll(".tick line").attr("stroke", "#222").attr("stroke-width", 1.1);
  a.selectAll(".tick text").attr("font-size", 13.9).attr("font-family", FONT).attr("fill", "#000");
}
function roundMarkers(g, top, bottom, labelOff) {
  roundStarts.forEach((s, i) => {
    g.append("line").attr("x1", x(s)).attr("x2", x(s)).attr("y1", top).attr("y2", bottom)
      .attr("stroke", "#444").attr("stroke-width", 0.9).attr("stroke-dasharray", "1.3,2.3").attr("opacity", 0.75);
    g.append("text").attr("x", x(s) + 6).attr("y", top + labelOff).text(roundLabels[i])
      .attr("font-size", 15).attr("fill", "#666");
  });
}
function fit(arr) { return times.map((t, i) => arr[Math.min(i, arr.length - 1)]); }

function probPanel(top, bottom, title, his, los, ylabX) {
  const y = d3.scaleLinear().domain([0, 1.152]).range([bottom, top]);
  const g = svg.append("g");
  const yt = d3.range(24).map(i => Math.round(i * 5) / 100);
  g.append("g").selectAll("line").data(yt).join("line")
    .attr("x1", X0).attr("x2", X1).attr("y1", d => y(d)).attr("y2", d => y(d))
    .attr("stroke", "#dedede").attr("stroke-width", 0.9);
  roundMarkers(g, top, bottom, 27.5);
  his.forEach((hiRaw, k) => {
    const hi = fit(hiRaw), lo = fit(los[k]);
    const pts = times.map((t, i) => ({ t, hi: hi[i], lo: lo[i] }));
    g.append("path").datum(pts)
      .attr("d", d3.area().x(d => x(d.t)).y0(d => y(d.lo)).y1(d => y(d.hi)))
      .attr("fill", colors[k]).attr("fill-opacity", 0.09);
    g.append("path").datum(pts)
      .attr("d", d3.line().x(d => x(d.t)).y(d => y(d.lo)))
      .attr("fill", "none").attr("stroke", colors[k]).attr("stroke-width", 1.3)
      .attr("stroke-dasharray", "1.4,2.3").attr("opacity", 0.85);
    g.append("path").datum(pts)
      .attr("d", d3.line().x(d => x(d.t)).y(d => y(d.hi)))
      .attr("fill", "none").attr("stroke", colors[k]).attr("stroke-width", 2.1)
      .attr("stroke-linejoin", "round").attr("opacity", 0.9);
  });
  const ya = g.append("g").attr("transform", `translate(${X0},0)`)
    .call(d3.axisLeft(y).tickValues(yt).tickFormat(d3.format(".2f")).tickSize(4.9).tickPadding(4.9));
  styleAxis(ya);
  const xa = g.append("g").attr("transform", `translate(0,${bottom})`)
    .call(d3.axisBottom(x).tickValues(xTicks).tickFormat("").tickSize(4.9));
  styleAxis(xa);
  g.append("rect").attr("x", X0).attr("y", top).attr("width", X1 - X0).attr("height", bottom - top)
    .attr("fill", "none").attr("stroke", "#222").attr("stroke-width", 1.5);
  g.append("text").attr("x", (X0 + X1) / 2).attr("y", top - 12.7).attr("text-anchor", "middle")
    .attr("font-size", 19.5).attr("fill", "#000").text(title);
  g.append("text").attr("transform", `translate(${ylabX},${(top + bottom) / 2}) rotate(-90)`)
    .attr("text-anchor", "middle").attr("font-size", 13.9).attr("fill", "#000").text("Prob");
  // legend
  const lg = g.append("g");
  lg.append("rect").attr("x", 1573).attr("y", top + 5).attr("width", 499).attr("height", 62).attr("rx", 3)
    .attr("fill", "#fff").attr("fill-opacity", 0.8).attr("stroke", "#cccccc").attr("stroke-width", 1);
  const colX = [1577, 1705, 1834, 1962];
  const rowY = [16.3, 35.3, 54.7];
  seriesLabels.forEach((lab, k) => {
    const c = k < 3 ? 0 : k < 6 ? 1 : k < 8 ? 2 : 3;
    const r = k < 3 ? k : k < 6 ? k - 3 : k < 8 ? k - 6 : k - 8;
    const yy = top + rowY[r];
    lg.append("line").attr("x1", colX[c]).attr("x2", colX[c] + 28).attr("y1", yy).attr("y2", yy)
      .attr("stroke", colors[k]).attr("stroke-width", 2.1).attr("opacity", 0.9);
    lg.append("text").attr("x", colX[c] + 36).attr("y", yy).attr("dy", "0.36em")
      .attr("font-size", 12.2).attr("fill", "#000").text(lab);
  });
}

probPanel(52, 519, titleA,
  [ca_u4, ca_u9, ca_u14, ca_u19, ca_u24, ca_u29, ca_u34, ca_u39, ca_u44, ca_u49],
  [ca_u4_lo, ca_u9_lo, ca_u14_lo, ca_u19_lo, ca_u24_lo, ca_u29_lo, ca_u34_lo, ca_u39_lo, ca_u44_lo, ca_u49_lo], 36);
probPanel(579, 1047, titleB,
  [aw_u4, aw_u9, aw_u14, aw_u19, aw_u24, aw_u29, aw_u34, aw_u39, aw_u44, aw_u49],
  [aw_u4_lo, aw_u9_lo, aw_u14_lo, aw_u19_lo, aw_u24_lo, aw_u29_lo, aw_u34_lo, aw_u39_lo, aw_u44_lo, aw_u49_lo], 36);

// count panel
(function () {
  const top = 1107, bottom = 1419;
  const y = d3.scaleLinear().domain([-3.4, 69.1]).range([bottom, top]);
  const g = svg.append("g");
  g.append("g").selectAll("line").data(d3.range(0, 70, 5)).join("line")
    .attr("x1", X0).attr("x2", X1).attr("y1", d => y(d)).attr("y2", d => y(d))
    .attr("stroke", "#dedede").attr("stroke-width", 0.9);
  roundMarkers(g, top, bottom, 23);
  const mk = (a, b) => times.map((t, i) => ({ t, a: fit(a)[i], b: fit(b)[i] }));
  const bands = [[bandA_hi, bandA_lo, "#ff0000"], [bandB_hi, bandB_lo, "#0000ff"]];
  bands.forEach(([hi, lo, c]) => {
    g.append("path").datum(mk(hi, lo))
      .attr("d", d3.area().x(d => x(d.t)).y0(d => y(d.b)).y1(d => y(d.a)))
      .attr("fill", c).attr("fill-opacity", 0.14).attr("stroke", c).attr("stroke-opacity", 0.12).attr("stroke-width", 1);
  });
  const line = d3.line().x(d => x(d.t)).y(d => y(d.a));
  [[truthA, "#ff0000"], [truthB, "#0000ff"]].forEach(([arr, c]) => {
    g.append("path").datum(mk(arr, arr)).attr("d", line).attr("fill", "none")
      .attr("stroke", c).attr("stroke-width", 2.7).attr("stroke-opacity", 0.75).attr("stroke-linejoin", "round");
  });
  [[predA, "#ff0000"], [predB, "#0000ff"]].forEach(([arr, c]) => {
    g.append("path").datum(mk(arr, arr)).attr("d", line).attr("fill", "none")
      .attr("stroke", c).attr("stroke-width", 2.8).attr("stroke-opacity", 0.6).attr("stroke-dasharray", "2.8,4.6");
  });
  const ya = g.append("g").attr("transform", `translate(${X0},0)`)
    .call(d3.axisLeft(y).tickValues(d3.range(0, 70, 10)).tickFormat(d3.format("d")).tickSize(4.9).tickPadding(4.9));
  styleAxis(ya);
  const xa = g.append("g").attr("transform", `translate(0,${bottom})`)
    .call(d3.axisBottom(x).tickValues(xTicks).tickFormat(d3.format("d")).tickSize(4.9).tickPadding(8.5));
  styleAxis(xa);
  g.append("rect").attr("x", X0).attr("y", top).attr("width", X1 - X0).attr("height", bottom - top)
    .attr("fill", "none").attr("stroke", "#222").attr("stroke-width", 1.5);
  g.append("text").attr("transform", `translate(48,${(top + bottom) / 2}) rotate(-90)`)
    .attr("text-anchor", "middle").attr("font-size", 13.9).attr("fill", "#000").text("Count");
  g.append("text").attr("x", (X0 + X1) / 2).attr("y", 1471).attr("text-anchor", "middle")
    .attr("font-size", 20.5).attr("fill", "#000").text("Fight time (seconds)");
  // legend
  const lg = g.append("g");
  lg.append("rect").attr("x", 100).attr("y", 1114).attr("width", 297).attr("height", 93).attr("rx", 3)
    .attr("fill", "#fff").attr("fill-opacity", 0.8).attr("stroke", "#cccccc").attr("stroke-width", 1);
  const rows = [1126.7, 1148.3, 1171, 1193];
  const sty = [["#ff0000", 0.75, null, 2.7], ["#0000ff", 0.75, null, 2.7], ["#ff0000", 0.6, "2.8,4.6", 2.8], ["#0000ff", 0.6, "2.8,4.6", 2.8]];
  countLegend.forEach((lab, i) => {
    const l = lg.append("line").attr("x1", 106).attr("x2", 137).attr("y1", rows[i]).attr("y2", rows[i])
      .attr("stroke", sty[i][0]).attr("stroke-opacity", sty[i][1]).attr("stroke-width", sty[i][3]);
    if (sty[i][2]) l.attr("stroke-dasharray", sty[i][2]);
    lg.append("text").attr("x", 147).attr("y", rows[i]).attr("dy", "0.36em")
      .attr("font-size", 13.9).attr("fill", "#000").text(lab);
  });
})();

// length sanity check
const allNamed = {ca_u4,ca_u4_lo,ca_u9,ca_u9_lo,ca_u14,ca_u14_lo,ca_u19,ca_u19_lo,ca_u24,ca_u24_lo,ca_u29,ca_u29_lo,ca_u34,ca_u34_lo,ca_u39,ca_u39_lo,ca_u44,ca_u44_lo,ca_u49,ca_u49_lo,
aw_u4,aw_u4_lo,aw_u9,aw_u9_lo,aw_u14,aw_u14_lo,aw_u19,aw_u19_lo,aw_u24,aw_u24_lo,aw_u29,aw_u29_lo,aw_u34,aw_u34_lo,aw_u39,aw_u39_lo,aw_u44,aw_u44_lo,aw_u49,aw_u49_lo,
truthA,truthB,predA,predB,bandA_hi,bandA_lo,bandB_hi,bandB_lo};
Object.entries(allNamed).forEach(([k, v]) => { if (v.length !== 111) console.error("length mismatch", k, v.length); });
</script>
</body></html>
